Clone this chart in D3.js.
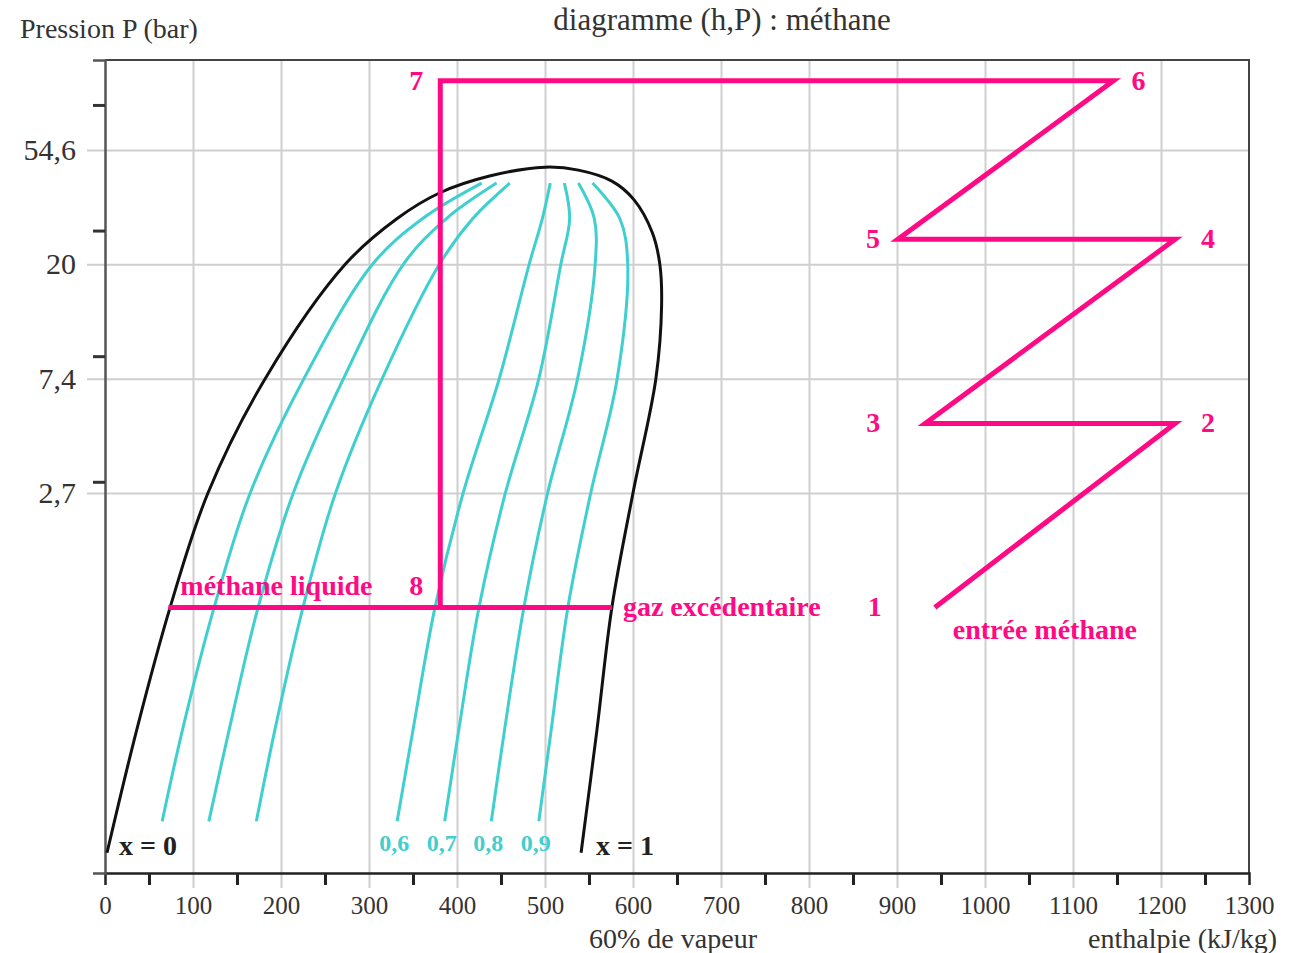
<!DOCTYPE html>
<html>
<head>
<meta charset="utf-8">
<script src="https://cdn.jsdelivr.net/npm/d3@7"></script>
<style>
  html, body { margin: 0; padding: 0; background: #fff; }
  svg { display: block; font-family: "Liberation Serif", "Times New Roman", serif; }
</style>
</head>
<body>
<div id="chart"></div>
<script>
// saturation curve, liquid side (x = 0): pressure (bar) / enthalpy (kJ/kg)
const liquidP = [0.117, 0.342, 1.0, 2.72, 7.39, 20.1, 30, 37.5, 43.5, 47.0];
const liquidH = [2.3, 36, 74, 117, 182, 273, 332, 380, 437, 500];
// vapour side (x = 1), from the critical point downwards
const vapourP = [47.0, 45.8, 41.6, 35.4, 26.5, 20.1, 14, 7.39, 2.72, 1.0, 0.342, 0.117];
const vapourH = [500, 538, 576, 601, 622, 630.5, 632.5, 626, 600, 576, 559, 541];

// iso-quality lines
const qualityP = [0.154, 0.342, 1, 2.72, 7.39, 20.1, 30, 40.9];
const qualityNames = ['0,1', '0,2', '0,3', '0,6', '0,7', '0,8', '0,9'];
const qualityLabelled = [false, false, false, true, true, true, true];
const q01 = [65, 88, 124, 165, 226, 304, 361, 428];
const q02 = [118, 141, 174, 214, 271, 339, 388, 445];
const q03 = [172, 193, 225, 262, 315, 380, 418, 460];
const q06 = [332, 350, 375, 407, 448, 482, 497, 506];
const q07 = [386, 402, 425, 455, 493, 518, 528, 522];
const q08 = [439, 454, 476, 503, 537, 557, 556, 538];
const q09 = [493, 507, 526, 552, 582, 594, 585, 554];
const qualityH = [q01, q02, q03, q06, q07, q08, q09];

// liquefaction cycle points 1..8
const cycleNames = ['1', '2', '3', '4', '5', '6', '7', '8'];
const cycleH = [943, 1216, 932, 1216, 901, 1146, 381, 381];
const cycleP = [1, 5, 5, 25, 25, 100, 100, 1];
// separator line at 1 bar
const separatorH = [72, 576];
const separatorP = [1, 1];

// axes
const hGrid = [100, 200, 300, 400, 500, 600, 700, 800, 900, 1000, 1100, 1200];
const hLabels = [0, 100, 200, 300, 400, 500, 600, 700, 800, 900, 1000, 1100, 1200, 1300];
const hMinor = [50, 150, 250, 350, 450, 550, 650, 750, 850, 950, 1050, 1150, 1250];
const pGrid = [2.718, 7.389, 20.09, 54.6];
const pGridLabels = ['2,7', '7,4', '20', '54,6'];
const pMinor = [3, 9, 27, 81];

const W = 1302, H = 953;
const pink = '#ff0a84', cyan = '#3fcfcf', grid = '#cfcfcf';
const L = 105, R = 1249, T = 60, B = 873;

const svg = d3.select('#chart').append('svg').attr('width', W).attr('height', H);

const x = d3.scaleLinear().domain([0, 1300]).range([L, R]);
const y = d3.scaleLog().domain([0.098, 120]).range([B, T]);

// grid
svg.append('g')
  .attr('transform', `translate(0,${B + 15})`)
  .call(d3.axisBottom(x).tickValues(hGrid).tickSize(-(B + 15 - T)).tickFormat(''))
  .call(g => g.select('.domain').remove())
  .call(g => g.selectAll('line').attr('stroke', grid).attr('stroke-width', 2));

svg.append('g')
  .attr('transform', `translate(${L - 18},0)`)
  .call(d3.axisRight(y).tickValues(pGrid).tickSize(R - L + 18).tickFormat(''))
  .call(g => g.select('.domain').remove())
  .call(g => g.selectAll('line').attr('stroke', grid).attr('stroke-width', 2));

// frame
svg.append('path')
  .attr('d', `M${L},${T}H${R}V${B}`)
  .attr('fill', 'none').attr('stroke', '#444').attr('stroke-width', 2);

// x axis
svg.append('g')
  .attr('transform', `translate(0,${B})`)
  .call(d3.axisBottom(x).tickValues(hMinor).tickSize(12).tickFormat(''))
  .call(g => g.select('.domain').attr('stroke', '#222').attr('stroke-width', 2.5))
  .call(g => g.selectAll('.tick line').attr('stroke', '#222').attr('stroke-width', 3));

svg.append('g')
  .attr('transform', `translate(0,${B})`)
  .call(d3.axisBottom(x).tickValues(hLabels).tickSize(0).tickPadding(23).tickFormat(d => d))
  .call(g => g.select('.domain').remove())
  .call(g => g.selectAll('text')
    .attr('font-family', '"Liberation Serif", serif')
    .attr('font-size', 25).attr('fill', '#333'));

// y axis
svg.append('g')
  .attr('transform', `translate(${L},0)`)
  .call(d3.axisLeft(y).tickValues(pMinor).tickSize(12).tickFormat(''))
  .call(g => g.select('.domain').attr('stroke', '#555').attr('stroke-width', 2.5))
  .call(g => g.selectAll('.tick line').attr('stroke', '#333').attr('stroke-width', 3));

svg.append('g')
  .attr('transform', `translate(${L},0)`)
  .call(d3.axisLeft(y).tickValues(pGrid).tickSize(0).tickPadding(29)
    .tickFormat((d, i) => pGridLabels[i]))
  .call(g => g.select('.domain').remove())
  .call(g => g.selectAll('text')
    .attr('font-family', '"Liberation Serif", serif')
    .attr('font-size', 30).attr('fill', '#333'));

// titles
svg.append('text').attr('x', 20).attr('y', 38)
  .attr('font-size', 28).attr('fill', '#333').text('Pression P (bar)');
svg.append('text').attr('x', 722).attr('y', 30).attr('text-anchor', 'middle')
  .attr('font-size', 31).attr('fill', '#333').text('diagramme (h,P) : méthane');
svg.append('text').attr('x', 673).attr('y', 948).attr('text-anchor', 'middle')
  .attr('font-size', 28).attr('fill', '#333').text('60% de vapeur');
svg.append('text').attr('x', 1277).attr('y', 948).attr('text-anchor', 'end')
  .attr('font-size', 28).attr('fill', '#333').text('enthalpie (kJ/kg)');

// iso-quality lines
const line = d3.line().x(d => x(d[0])).y(d => y(d[1])).curve(d3.curveCatmullRom.alpha(0.5));
const plot = svg.append('g');

qualityH.forEach((hs, i) => {
  const pts = hs.map((h, k) => [h, qualityP[k]]);
  plot.append('path').attr('d', line(pts))
    .attr('fill', 'none').attr('stroke', cyan).attr('stroke-width', 3);
  if (qualityLabelled[i]) {
    plot.append('text')
      .attr('x', x(hs[0]) - 3).attr('y', y(qualityP[0]) + 30)
      .attr('text-anchor', 'middle').attr('font-size', 24).attr('font-weight', 'bold')
      .attr('fill', cyan).text(qualityNames[i]);
  }
});

// saturation dome
const dome = liquidH.map((h, i) => [h, liquidP[i]])
  .concat(vapourH.slice(1).map((h, i) => [h, vapourP[i + 1]]));
plot.append('path').attr('d', line(dome))
  .attr('fill', 'none').attr('stroke', '#111').attr('stroke-width', 3);

plot.append('text').attr('x', x(liquidH[0]) + 12).attr('y', y(liquidP[0]) + 2)
  .attr('font-size', 28).attr('font-weight', 'bold').attr('fill', '#222').text('x = 0');
plot.append('text').attr('x', x(vapourH[vapourH.length - 1]) + 15).attr('y', y(vapourP[vapourP.length - 1]) + 2)
  .attr('font-size', 28).attr('font-weight', 'bold').attr('fill', '#222').text('x = 1');

// cycle
const straight = d3.line().x(d => x(d[0])).y(d => y(d[1]));
const cyc = cycleH.map((h, i) => [h, cycleP[i]]);
svg.append('path').attr('d', straight(cyc))
  .attr('fill', 'none').attr('stroke', pink).attr('stroke-width', 5)
  .attr('stroke-linejoin', 'miter');
svg.append('path').attr('d', straight(separatorH.map((h, i) => [h, separatorP[i]])))
  .attr('fill', 'none').attr('stroke', pink).attr('stroke-width', 5);

// point labels: offsets in px from each point
const labelDx = [-60, 33, -52, 33, -25, 25, -24, -24];
const labelDy = [9, 9, 9, 9, 9, 9, 9, -12];
cyc.forEach((p, i) => {
  svg.append('text')
    .attr('x', x(p[0]) + labelDx[i]).attr('y', y(p[1]) + labelDy[i])
    .attr('text-anchor', 'middle').attr('font-size', 28).attr('font-weight', 'bold')
    .attr('fill', pink).text(cycleNames[i]);
});

svg.append('text').attr('x', x(separatorH[0]) + 12).attr('y', y(1) - 12)
  .attr('font-size', 28).attr('font-weight', 'bold').attr('fill', pink).text('méthane liquide');
svg.append('text').attr('x', x(separatorH[1]) + 11).attr('y', y(1) + 9)
  .attr('font-size', 28).attr('font-weight', 'bold').attr('fill', pink).text('gaz excédentaire');
svg.append('text').attr('x', x(cycleH[0]) + 110).attr('y', y(1) + 32)
  .attr('text-anchor', 'middle')
  .attr('font-size', 28).attr('font-weight', 'bold').attr('fill', pink).text('entrée méthane');
</script>
</body>
</html>
